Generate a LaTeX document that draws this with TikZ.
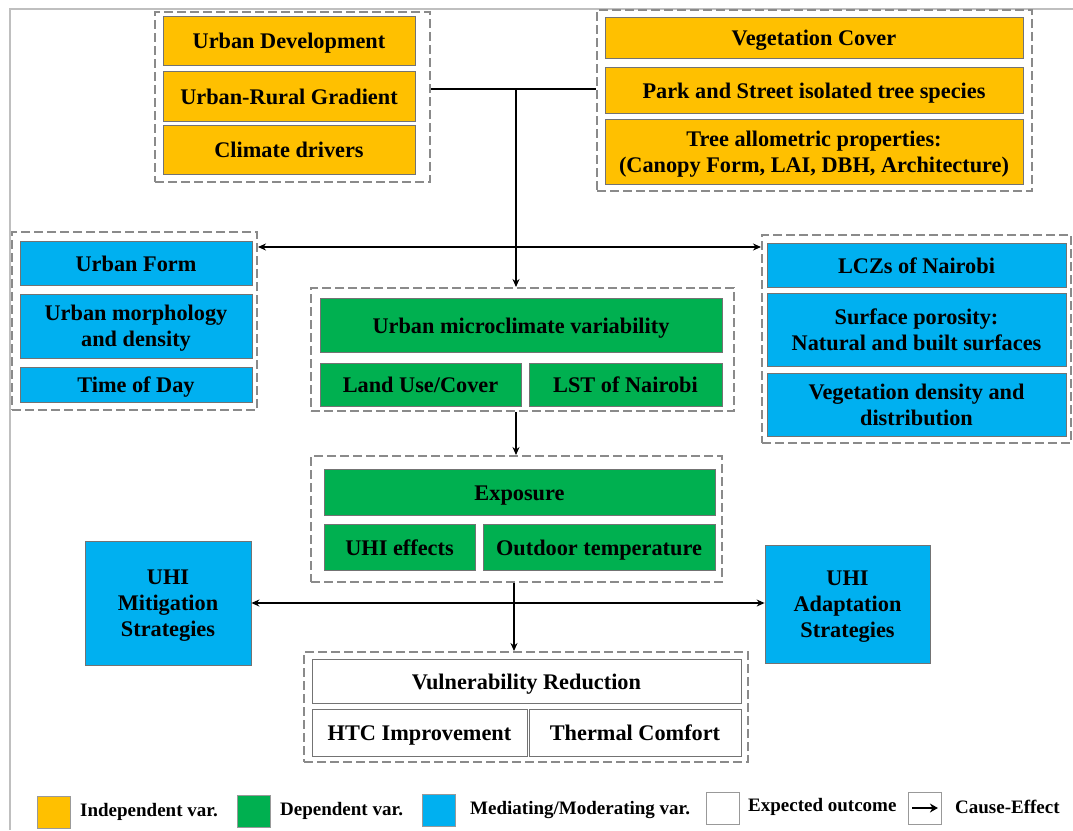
\documentclass[tikz,border=0pt]{standalone}
\usepackage{fontspec}
\setmainfont{Liberation Serif}
\usetikzlibrary{arrows.meta}
\definecolor{indepC}{HTML}{FFC000}
\definecolor{depC}{HTML}{00B050}
\definecolor{medC}{HTML}{00B0F0}
\definecolor{groupC}{HTML}{8A8A8A}
\definecolor{frameC}{HTML}{BFBFBF}

\begin{document}
\begin{tikzpicture}[x = 1pt, y = -1pt,
    box/.style = {shape = rectangle, draw = black!55, line width = 0.8pt,
                  align = center, inner sep = 0pt, text depth = 0pt,
                  execute at begin node = {\rule{0pt}{16pt}},
                  font = \fontsize{22.3}{26}\selectfont\bfseries},
    sz/.style 2 args = {minimum width = #1, minimum height = #2},
    group/.style = {shape = rectangle, draw = groupC, line width = 2pt,
                    dash pattern = on 9pt off 4pt, inner sep = 0pt},
    link/.style = {line width = 1.2pt},
    tip/.style = {link, -{Stealth[length = 8pt, width = 7pt]}},
    twotip/.style = {link, {Stealth[length = 8pt, width = 7pt]}-{Stealth[length = 8pt, width = 7pt]}},
    key/.style = {shape = rectangle, draw = black!40, line width = 0.8pt,
                  minimum width = 33, minimum height = 32},
    keytext/.style = {anchor = west, inner sep = 0pt,
                      font = \fontsize{19}{22}\selectfont\bfseries}]
      \useasboundingbox (0, 0) rectangle (1073, 830);
      \draw [frameC, line width = 1.2pt] (10, 830) -- (10, 9) -- (1073, 9);

      % groups
      \node [group, sz = {275}{170}] (tlg) at (292.5, 97) {};
      \node [group, sz = {435}{181}] (trg) at (814.5, 100.5) {};
      \node [group, sz = {245}{178}] (lg)  at (134.5, 321) {};
      \node [group, sz = {423}{123}] (mg)  at (522.5, 349.5) {};
      \node [group, sz = {309}{208}] (rg)  at (916.5, 339) {};
      \node [group, sz = {411}{126}] (eg)  at (516.5, 519) {};
      \node [group, sz = {444}{110}] (og)  at (526, 707) {};

      % independent
      \node [box, fill = indepC, sz = {252}{49}] (udev) at (289, 40.5) {Urban Development};
      \node [box, fill = indepC, sz = {252}{50}] (urg)  at (289, 96) {Urban-Rural Gradient};
      \node [box, fill = indepC, sz = {252}{49}] (cdrv) at (289, 149.5) {Climate drivers};
      \node [box, fill = indepC, sz = {418}{41}] (vcov) at (814, 37.5) {Vegetation Cover};
      \node [box, fill = indepC, sz = {418}{46}] (park) at (814, 90) {Park and Street isolated tree species};
      \node [box, fill = indepC, sz = {418}{65}] (tree) at (814, 151.5)
            {Tree allometric properties:\\(Canopy Form, LAI, DBH, Architecture)};

      % mediating
      \node [box, fill = medC, sz = {232}{44}] (uform)  at (136, 263) {Urban Form};
      \node [box, fill = medC, sz = {232}{64}] (umorph) at (136, 326) {Urban morphology\\and density};
      \node [box, fill = medC, sz = {232}{35}] (tod)    at (136, 384.5) {Time of Day};
      \node [box, fill = medC, sz = {299}{44}] (lcz)  at (916.5, 265) {LCZs of Nairobi};
      \node [box, fill = medC, sz = {299}{73}] (spor) at (916.5, 329.5) {Surface porosity:\\Natural and built surfaces};
      \node [box, fill = medC, sz = {299}{63}] (vden) at (916.5, 404.5) {Vegetation density and\\distribution};
      \node [box, fill = medC, sz = {166}{124}] (mitig) at (168, 603) {UHI\\Mitigation\\Strategies};
      \node [box, fill = medC, sz = {165}{118}] (adapt) at (847.5, 604) {UHI\\Adaptation\\Strategies};

      % dependent
      \node [box, fill = depC, sz = {402}{54}] (umv) at (521, 325) {Urban microclimate variability};
      \node [box, fill = depC, sz = {201}{43}] (luc) at (420.5, 384.5) {Land Use/Cover};
      \node [box, fill = depC, sz = {193}{43}] (lst) at (625.5, 384.5) {LST of Nairobi};
      \node [box, fill = depC, sz = {391}{46}] (expo)  at (519.5, 492) {Exposure};
      \node [box, fill = depC, sz = {151}{46}] (uhie)  at (399.5, 547) {UHI effects};
      \node [box, fill = depC, sz = {232}{46}] (otemp) at (599, 547) {Outdoor temperature};

      % outcome
      \node [box, fill = white, sz = {429}{44}] (vred) at (526.5, 681) {Vulnerability Reduction};
      \node [box, fill = white, sz = {215}{47}] (htc)  at (419.5, 732.5) {HTC Improvement};
      \node [box, fill = white, sz = {212}{47}] (tcom) at (635, 732.5) {Thermal Comfort};

      % links
      \coordinate (join) at (516, 89);
      \coordinate (split) at (516, 247);
      \draw [link] (tlg.east |- join) -- (trg.west |- join);
      \draw [tip] (join) -- (mg.north -| join);
      \draw [twotip] (lg.east |- split) -- (rg.west |- split);
      \draw [tip] (mg.south -| join) -- (eg.north -| join);
      \coordinate (down) at (514, 603);
      \draw [tip] (eg.south -| down) -- (og.north -| down);
      \draw [twotip] (mitig.east |- down) -- (adapt.west |- down);

      % legend
      \node [key, fill = indepC] (k1) at (53.5, 812) {};
      \node [keytext] (t1) at (80, 812) {Independent var.};
      \node [key, fill = depC] (k2) at (253.5, 811) {};
      \node [keytext] (t2) at (280, 811) {Dependent var.};
      \node [key, fill = medC] (k3) at (438.5, 810) {};
      \node [keytext] (t3) at (470, 810) {Mediating/Moderating var.};
      \node [key, fill = white] (k4) at (723, 808.5) {};
      \node [keytext] (t4) at (748, 807) {Expected outcome};
      \node [key, fill = white] (k5) at (925, 808) {};
      \node [keytext] (t5) at (955, 807) {Cause-Effect};
      \draw [line width = 2.4pt, -{Stealth[length = 8pt, width = 9pt]}]
            ([xshift = 4pt]k5.west) -- ([xshift = -4pt]k5.east);
    \end{tikzpicture}
\end{document}
